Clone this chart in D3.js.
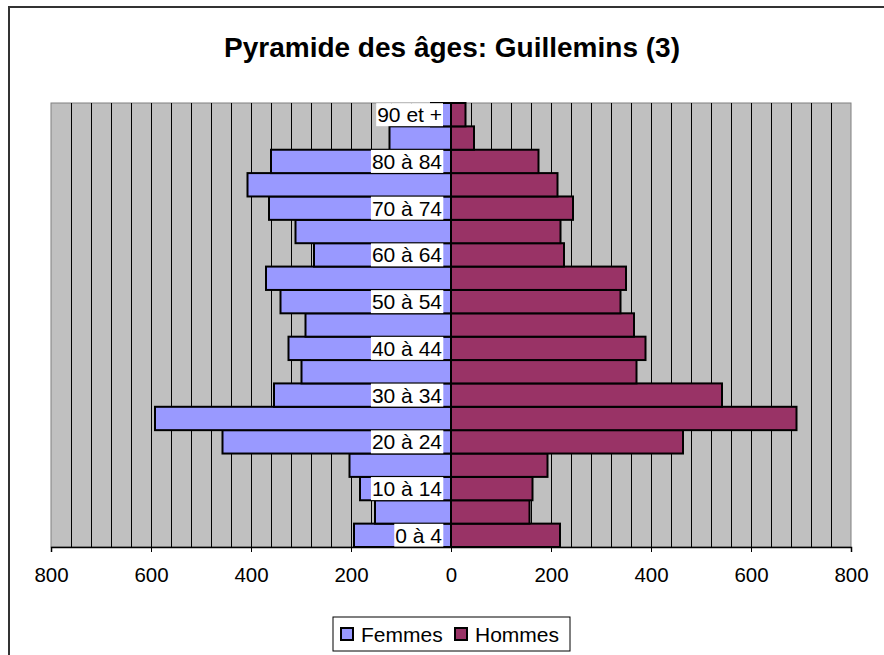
<!DOCTYPE html>
<html>
<head>
<meta charset="utf-8">
<script src="https://cdn.jsdelivr.net/npm/d3@7"></script>
<style>
  body { margin: 0; background: #fff; }
  text { font-family: "Liberation Sans", Arial, sans-serif; }
</style>
</head>
<body>
<svg id="chart" width="884" height="655"></svg>
<script>
// age groups, bottom to top
const ageGroups = ["0 à 4", "5 à 9", "10 à 14", "15 à 19", "20 à 24", "25 à 29", "30 à 34",
  "35 à 39", "40 à 44", "45 à 49", "50 à 54", "55 à 59", "60 à 64", "65 à 69", "70 à 74",
  "75 à 79", "80 à 84", "85 à 89", "90 et +"];
const femmes = [194, 152, 182, 203, 457, 592, 354, 299, 325, 291, 341, 370, 274, 311, 364, 407, 360, 123, 40];
const hommes = [218, 157, 163, 193, 464, 691, 542, 371, 389, 366, 339, 350, 226, 219, 244, 213, 175, 46, 29];
const tickValues = [-800, -600, -400, -200, 0, 200, 400, 600, 800];
const seriesNames = ["Femmes", "Hommes"];
const seriesColors = ["#9999ff", "#993366"];

const svg = d3.select("#chart");

// plot area
const plot = { left: 51, right: 851, top: 103, bottom: 547 };

const xScale = d3.scaleLinear().domain([-800, 800]).range([plot.left, plot.right]);
const yScale = d3.scaleBand().domain(ageGroups.slice().reverse())
  .range([plot.top, plot.bottom]).paddingInner(0);

// outer frame (runs off the right and bottom edges)
svg.append("rect")
  .attr("x", 9).attr("y", 7)
  .attr("width", 900).attr("height", 700)
  .attr("fill", "#fff")
  .attr("stroke", "#333")
  .attr("stroke-width", 2);

// title
svg.append("text")
  .attr("x", 452).attr("y", 57)
  .attr("text-anchor", "middle")
  .style("font-size", "28px")
  .style("font-weight", "bold")
  .text("Pyramide des âges: Guillemins (3)");

// plot background
svg.append("rect")
  .attr("x", plot.left).attr("y", plot.top)
  .attr("width", plot.right - plot.left).attr("height", plot.bottom - plot.top)
  .attr("fill", "#c0c0c0")
  .attr("stroke", "#808080")
  .attr("stroke-width", 1);

// vertical gridlines every 40
svg.append("g")
  .selectAll("line")
  .data(d3.range(-760, 800, 40))
  .enter().append("line")
  .attr("x1", d => Math.round(xScale(d)) + 0.5)
  .attr("x2", d => Math.round(xScale(d)) + 0.5)
  .attr("y1", plot.top)
  .attr("y2", plot.bottom)
  .attr("stroke", "#000")
  .attr("stroke-width", 1);

// bars
const bars = svg.append("g");
bars.selectAll(".femme")
  .data(ageGroups)
  .enter().append("rect")
  .attr("class", "femme")
  .attr("x", (d, i) => xScale(-femmes[i]))
  .attr("y", d => yScale(d))
  .attr("width", (d, i) => xScale(0) - xScale(-femmes[i]))
  .attr("height", yScale.bandwidth())
  .attr("fill", seriesColors[0])
  .attr("stroke", "#000")
  .attr("stroke-width", 2);

bars.selectAll(".homme")
  .data(ageGroups)
  .enter().append("rect")
  .attr("class", "homme")
  .attr("x", xScale(0))
  .attr("y", d => yScale(d))
  .attr("width", (d, i) => xScale(hommes[i]) - xScale(0))
  .attr("height", yScale.bandwidth())
  .attr("fill", seriesColors[1])
  .attr("stroke", "#000")
  .attr("stroke-width", 2);

// category labels (every other one) with white background
const labelGroup = svg.append("g");
ageGroups.forEach((d, i) => {
  if (i % 2 !== 0) return;
  const cy = yScale(d) + yScale.bandwidth() / 2;
  const t = labelGroup.append("text")
    .attr("x", 442)
    .attr("y", cy + 7.5)
    .attr("text-anchor", "end")
    .style("font-size", "21px")
    .text(d);
  const bb = t.node().getBBox();
  labelGroup.insert("rect", "text")
    .attr("x", bb.x - 1)
    .attr("y", cy - 11.5)
    .attr("width", bb.width + 2)
    .attr("height", 23)
    .attr("fill", "#fff");
});

// bottom axis
const xAxis = d3.axisBottom(xScale)
  .tickValues(tickValues)
  .tickSize(5)
  .tickPadding(15)
  .tickFormat(d => Math.abs(d));

const axisG = svg.append("g")
  .attr("transform", `translate(0,${plot.bottom})`)
  .call(xAxis);
axisG.select(".domain").attr("stroke", "#000").attr("stroke-width", 1.5);
axisG.selectAll(".tick line").attr("stroke", "#000");
axisG.selectAll(".tick text")
  .style("font-size", "20.5px")
  .style("font-family", "'Liberation Sans', Arial, sans-serif")
  .attr("fill", "#000");

// legend
const legend = svg.append("g");
legend.append("rect")
  .attr("x", 333).attr("y", 617)
  .attr("width", 237).attr("height", 34)
  .attr("fill", "#fff")
  .attr("stroke", "#000")
  .attr("stroke-width", 1);

const legendX = [341, 455];
seriesNames.forEach((name, i) => {
  legend.append("rect")
    .attr("x", legendX[i]).attr("y", 628)
    .attr("width", 12).attr("height", 12)
    .attr("fill", seriesColors[i])
    .attr("stroke", "#000")
    .attr("stroke-width", 2);
  legend.append("text")
    .attr("x", legendX[i] + 20)
    .attr("y", 642)
    .style("font-size", "21px")
    .text(name);
});
</script>
</body>
</html>
